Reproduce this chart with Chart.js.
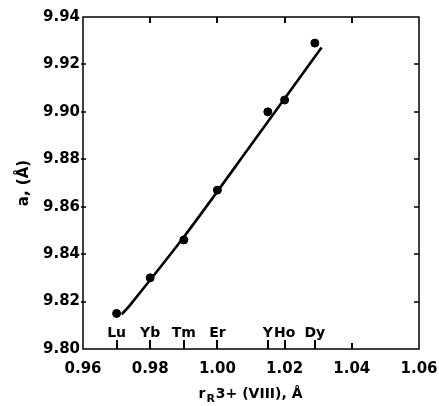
<!DOCTYPE html>
<html>
<head>
<meta charset="utf-8">
<script src="https://cdn.jsdelivr.net/npm/chart.js@4"></script>
<style>
  html, body { margin: 0; padding: 0; background: #fff; }
</style>
</head>
<body>
<canvas id="chart" width="439" height="406"></canvas>
<script>
// rare-earth ions, their 8-fold radii (Å) and measured lattice constant a (Å)
const elements = ['Lu', 'Yb', 'Tm', 'Er', 'Y', 'Ho', 'Dy'];
const ionicRadius = [0.970, 0.980, 0.990, 1.000, 1.015, 1.020, 1.029];
const latticeA = [9.815, 9.830, 9.846, 9.867, 9.900, 9.905, 9.929];

// hand drawn fit curve
const fitX = [0.9715, 0.9740, 0.9900, 1.0100, 1.0310];
const fitY = [9.8146, 9.8185, 9.8472, 9.8860, 9.9271];

const xTicks = [0.96, 0.98, 1.00, 1.02, 1.04, 1.06];
const yTicks = [9.80, 9.82, 9.84, 9.86, 9.88, 9.90, 9.92, 9.94];

const tickFont = { family: 'DejaVu Sans', size: 15, weight: 'bold' };

const frame = {
  id: 'frame',
  afterDraw(chart) {
    const { ctx, chartArea: a, scales } = chart;
    const x = scales.x, y = scales.y;
    ctx.save();
    ctx.strokeStyle = '#000';
    ctx.lineWidth = 1.5;
    ctx.strokeRect(a.left, a.top, a.right - a.left, a.bottom - a.top);

    // inward ticks
    ctx.fillStyle = '#000';
    xTicks.slice(1, -1).forEach((v) => {
      const px = Math.round(x.getPixelForValue(v));
      ctx.fillRect(px - 1, a.bottom - 6, 2, 6);
      ctx.fillRect(px - 1, a.top, 2, 6);
    });
    yTicks.slice(1, -1).forEach((v) => {
      const py = Math.round(y.getPixelForValue(v));
      ctx.fillRect(a.left - 2, py - 0.75, 5, 1.5);
      ctx.fillRect(a.right - 5, py - 0.75, 5, 1.5);
    });

    // element markers along the bottom axis
    elements.forEach((el, i) => {
      const px = Math.round(x.getPixelForValue(ionicRadius[i]));
      ctx.fillRect(px - 1, a.bottom - 9, 2, 9);
    });
    ctx.font = 'bold 14px "DejaVu Sans"';
    ctx.textAlign = 'center';
    ctx.textBaseline = 'alphabetic';
    elements.forEach((el, i) => {
      const px = x.getPixelForValue(ionicRadius[i]);
      ctx.fillText(el, px, a.bottom - 12);
    });

    // x axis title with subscript
    const parts = [
      { t: 'r', f: 'bold 14px "DejaVu Sans"', dy: 0 },
      { t: 'R', f: 'bold 11px "DejaVu Sans"', dy: 4 },
      { t: '3+ (VIII), Å', f: 'bold 14px "DejaVu Sans"', dy: 0 },
    ];
    let w = 0;
    parts.forEach((p) => { ctx.font = p.f; w += ctx.measureText(p.t).width + 1; });
    let cx = (a.left + a.right) / 2 - w / 2;
    ctx.textAlign = 'left';
    parts.forEach((p) => {
      ctx.font = p.f;
      ctx.fillText(p.t, cx, 398 + p.dy);
      cx += ctx.measureText(p.t).width + 1;
    });

    // y axis title
    ctx.translate(28, (a.top + a.bottom) / 2);
    ctx.rotate(-Math.PI / 2);
    ctx.textAlign = 'center';
    ctx.font = 'bold 15px "DejaVu Sans"';
    ctx.fillText('a, (Å)', 0, 0);
    ctx.restore();
  },
};

new Chart(document.getElementById('chart'), {
  type: 'scatter',
  data: {
    datasets: [
      {
        data: fitX.map((v, i) => ({ x: v, y: fitY[i] })),
        showLine: true,
        borderColor: '#000',
        borderWidth: 2.6,
        pointRadius: 0,
        tension: 0.3,
      },
      {
        data: ionicRadius.map((v, i) => ({ x: v, y: latticeA[i] })),
        backgroundColor: '#000',
        borderColor: '#000',
        pointRadius: 4,
      },
    ],
  },
  options: {
    responsive: false,
    animation: false,
    layout: { padding: { top: 17, right: 20, left: 0, bottom: 0 } },
    plugins: { legend: { display: false }, tooltip: { enabled: false } },
    scales: {
      x: {
        type: 'linear',
        min: 0.96,
        max: 1.06,
        afterBuildTicks: (s) => { s.ticks = xTicks.map((v) => ({ value: v })); },
        afterFit: (s) => { s.height = 57; s.paddingLeft = 0; s.paddingRight = 0; },
        ticks: {
          color: '#000',
          font: tickFont,
          padding: 11,
          maxRotation: 0,
          callback: (v) => v.toFixed(2),
        },
        grid: { display: false, drawTicks: false },
        border: { display: false },
      },
      y: {
        min: 9.80,
        max: 9.94,
        afterBuildTicks: (s) => { s.ticks = yTicks.map((v) => ({ value: v })); },
        afterFit: (s) => { s.width = 83; s.paddingTop = 0; s.paddingBottom = 0; },
        ticks: {
          color: '#000',
          font: tickFont,
          padding: 3,
          callback: (v) => v.toFixed(2),
        },
        grid: { display: false, drawTicks: false },
        border: { display: false },
      },
    },
  },
  plugins: [frame],
});
</script>
</body>
</html>
